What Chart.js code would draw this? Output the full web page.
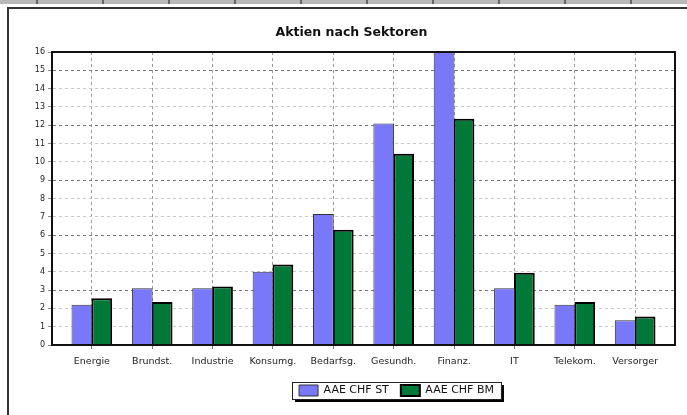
<!DOCTYPE html>
<html>
<head>
<meta charset="utf-8">
<script src="https://cdn.jsdelivr.net/npm/chart.js@4"></script>
<style>
  body { margin: 0; background: #fff; width: 687px; height: 415px; overflow: hidden; position: relative; }
  /* grey strip of the table above the chart */
  .strip {
    position: absolute; left: 0; top: 0; width: 687px; height: 4px;
    background: linear-gradient(90deg, #666 0 2px, transparent 2px) 36px 0 / 66px 100% repeat-x, #b8b8b8;
  }
  .frame { position: absolute; left: 7px; top: 7px; width: 700px; height: 420px; border: 2px solid #333; }
  .wrap { position: absolute; left: 0; top: 0; width: 687px; height: 415px; }
</style>
</head>
<body>
<div class="strip"></div>
<div class="frame"></div>
<div class="wrap"><canvas id="chart"></canvas></div>
<script>
// data
const sectors = ['Energie', 'Brundst.', 'Industrie', 'Konsumg.', 'Bedarfsg.', 'Gesundh.', 'Finanz.', 'IT', 'Telekom.', 'Versorger'];
const aaeChfSt = [2.2, 3.1, 3.1, 4.0, 7.15, 12.1, 16.0, 3.1, 2.2, 1.35];
const aaeChfBm = [2.55, 2.35, 3.2, 4.4, 6.3, 10.45, 12.35, 3.95, 2.35, 1.55];
const seriesNames = ['AAE CHF ST', 'AAE CHF BM'];
const yMin = 0;
const yMax = 16;
const yStep = 1;

const font = 'DejaVu Sans';

// title and legend sit a bit right of the middle in the original
const shiftPlugin = {
  id: 'shiftPlugin',
  afterLayout(chart) {
    chart.legend.left += 55;
    chart.legend.right += 55;
    chart.titleBlock.left += 10;
    chart.titleBlock.right += 10;
  }
};

// black frame round the plot area and the boxed legend with its shadow
const framePlugin = {
  id: 'framePlugin',
  afterDatasetsDraw(chart) {
    const { ctx, chartArea: a } = chart;
    ctx.save();
    ctx.strokeStyle = '#111';
    ctx.lineWidth = 2;
    ctx.strokeRect(a.left, a.top, a.width, a.height);
    ctx.restore();
  },
  afterDraw(chart) {
    const boxes = chart.legend.legendHitBoxes;
    if (!boxes || !boxes.length) return;
    const last = boxes[boxes.length - 1];
    const l = boxes[0].left - 7;
    const r = last.left + last.width + 7;
    const t = boxes[0].top - 3;
    const b = boxes[0].top + boxes[0].height + 3;
    const ctx = chart.ctx;
    ctx.save();
    ctx.fillStyle = '#000';
    ctx.fillRect(r, t + 3, 3, b - t);
    ctx.fillRect(l + 3, b, r - l, 3);
    ctx.strokeStyle = '#222';
    ctx.lineWidth = 1;
    ctx.strokeRect(Math.round(l) + 0.5, Math.round(t) + 0.5, Math.round(r - l), Math.round(b - t));
    ctx.restore();
  }
};

new Chart(document.getElementById('chart'), {
  type: 'bar',
  data: {
    labels: sectors,
    datasets: [
      {
        label: seriesNames[0],
        data: aaeChfSt,
        backgroundColor: '#7878f8',
        borderColor: '#333',
        borderWidth: 1,
        barPercentage: 1.04,
        categoryPercentage: 0.66
      },
      {
        label: seriesNames[1],
        data: aaeChfBm,
        backgroundColor: '#007838',
        borderColor: '#000',
        borderWidth: 2,
        barPercentage: 1.04,
        categoryPercentage: 0.66
      }
    ]
  },
  options: {
    responsive: true,
    maintainAspectRatio: false,
    animation: false,
    layout: { padding: { left: 8, right: 12, top: 8, bottom: 9 } },
    plugins: {
      title: {
        display: true,
        text: 'Aktien nach Sektoren',
        color: '#111',
        font: { family: font, size: 12.5, weight: 'bold' },
        padding: { top: 17, bottom: 12 }
      },
      legend: {
        position: 'bottom',
        labels: {
          color: '#111',
          font: { family: font, size: 11 },
          boxWidth: 19,
          boxHeight: 11,
          padding: 12
        }
      },
      tooltip: { enabled: false }
    },
    scales: {
      x: {
        offset: true,
        grid: { offset: false, color: '#999', tickLength: 4, tickColor: '#777' },
        border: { color: '#000', width: 2, dash: [3, 3] },
        ticks: { color: '#222', font: { family: font, size: 9.5 }, padding: 7, maxRotation: 0, autoSkip: false },
        // a little room before the first and after the last category
        afterBuildTicks: s => { s._startValue -= 0.16; s._valueRange += 0.32; },
        afterFit: s => { s.height = 28; }
      },
      y: {
        min: yMin,
        max: yMax,
        grid: {
          color: c => (c.tick && c.tick.value % 3 === 0) ? '#777' : '#c8c8c8',
          tickLength: 4,
          tickColor: '#888'
        },
        border: { color: '#000', width: 2, dash: [3, 3] },
        ticks: { stepSize: yStep, color: '#222', font: { family: font, size: 8 }, padding: 3 },
        afterFit: s => { s.width = 44; }
      }
    }
  },
  plugins: [shiftPlugin, framePlugin]
});
</script>
</body>
</html>
